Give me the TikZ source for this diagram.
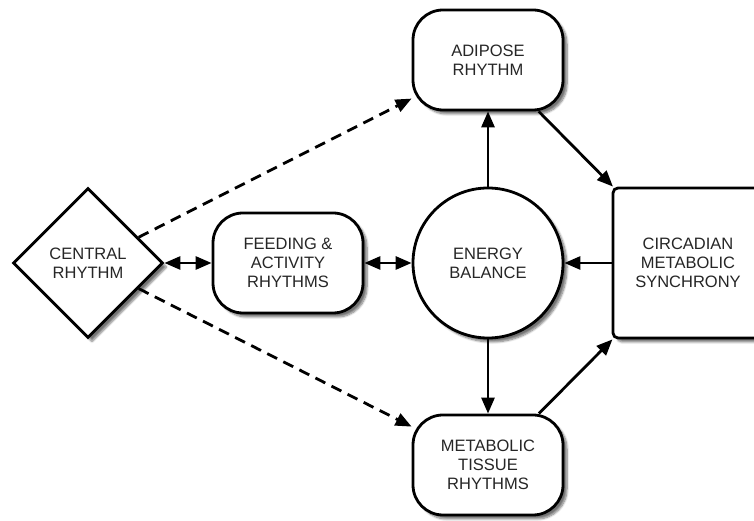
\documentclass[tikz,border=0pt]{standalone}
\usepackage{fontspec}
\setmainfont{Liberation Sans}
\usetikzlibrary{arrows.meta,shapes.geometric,shadows.blur}

\tikzset{
	box base/.style={draw, line width=2.8pt, fill=white, align=center, inner sep=0pt,
		text=black!85, font=\fontsize{16.5}{19}\selectfont,
		blur shadow={shadow xshift=4pt, shadow yshift=-4pt, shadow blur steps=7, shadow opacity=55}},
	pill/.style={box base, rectangle, rounded corners=30pt, minimum width=150pt, minimum height=100pt},
	hub/.style={box base, circle, minimum size=150pt},
	gem/.style={box base, diamond, aspect=1, minimum width=150pt, minimum height=150pt},
	block/.style={box base, rectangle, rounded corners=5pt, minimum width=150pt, minimum height=150pt},
	arr/.style={line width=2.8pt, -{Triangle[length=16pt,width=13pt]}},
	twoway/.style={line width=2.8pt, {Triangle[length=16pt,width=13pt]}-{Triangle[length=16pt,width=13pt]}},
	dasharr/.style={arr, dash pattern=on 11pt off 7pt}
}

\begin{document}
\begin{tikzpicture}[x=1pt, y=1pt]
			%%%%% START %%%%%
			
			\useasboundingbox (0, 0) rectangle (754, 521);
			
			\node[gem] (central) at (88, 258) {CENTRAL\\RHYTHM};
			\node[pill] (feeding) at (288, 258) {FEEDING \&\\ACTIVITY\\RHYTHMS};
			\node[hub] (energy) at (488, 258) {ENERGY\\BALANCE};
			\node[pill] (adipose) at (488, 461) {ADIPOSE\\RHYTHM};
			\node[pill] (tissue) at (488, 56) {METABOLIC\\TISSUE\\RHYTHMS};
			\node[block] (synchrony) at (688, 258) {CIRCADIAN\\METABOLIC\\SYNCHRONY};
			
			\draw[twoway] (central) -- (feeding);
			\draw[twoway] (feeding) -- (energy);
			
			\draw[dasharr] (central) -- (adipose);
			\draw[dasharr] (central) -- (tissue);
			
			\draw[arr] (energy) -- (adipose);
			\draw[arr] (energy) -- (tissue);
			\draw[arr] (adipose) -- (synchrony);
			\draw[arr] (tissue) -- (synchrony);
			\draw[arr] (synchrony) -- (energy);
			
			%%%%% END %%%%%
\end{tikzpicture}
\end{document}
